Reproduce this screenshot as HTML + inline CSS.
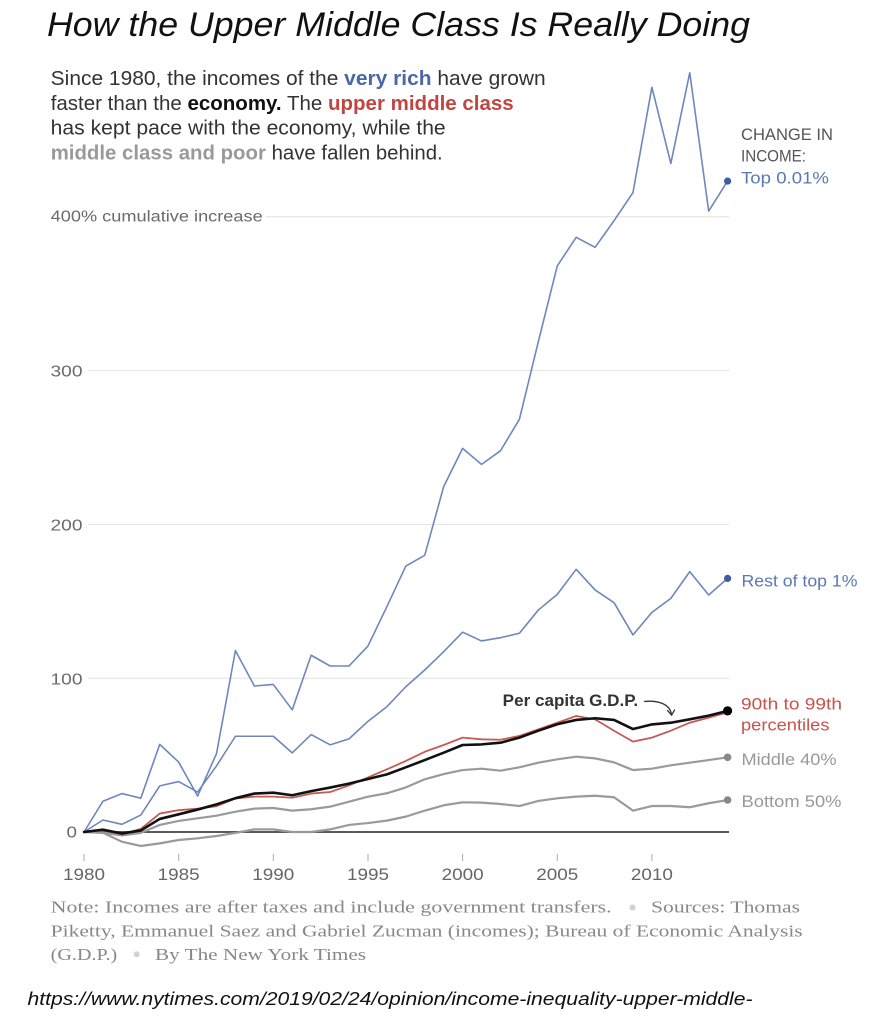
<!DOCTYPE html>
<html>
<head>
<meta charset="utf-8">
<style>
html,body{margin:0;padding:0;background:#fff;}
svg{display:block;}
</style>
</head>
<body>
<svg width="877" height="1024" viewBox="0 0 877 1024" xmlns="http://www.w3.org/2000/svg">
  <rect x="0" y="0" width="877" height="1024" fill="#fff"/>

  <!-- Title -->
  <text x="47" y="36" font-family="'Liberation Sans', sans-serif" font-style="italic" font-size="34" fill="#111" textLength="703" lengthAdjust="spacingAndGlyphs">How the Upper Middle Class Is Really Doing</text>

  <!-- Intro text -->
  <g font-family="'Liberation Sans', sans-serif" font-size="20.5" fill="#333">
    <text x="50.7" y="85" textLength="495" lengthAdjust="spacingAndGlyphs">Since 1980, the incomes of the <tspan font-weight="bold" fill="#4a68a8">very rich</tspan> have grown</text>
    <text x="50.7" y="110" textLength="463" lengthAdjust="spacingAndGlyphs">faster than the <tspan font-weight="bold" fill="#111">economy.</tspan> The <tspan font-weight="bold" fill="#c2453f">upper middle class</tspan></text>
    <text x="50.7" y="134.5" textLength="395" lengthAdjust="spacingAndGlyphs">has kept pace with the economy, while the</text>
    <text x="50.7" y="159.3" textLength="392" lengthAdjust="spacingAndGlyphs"><tspan font-weight="bold" fill="#999">middle class and poor</tspan> have fallen behind.</text>
  </g>

  <!-- Gridlines -->
  <g stroke="#e2e2e2" stroke-width="1">
    <line x1="266" y1="216.7" x2="729" y2="216.7"/>
    <line x1="88" y1="370.6" x2="729" y2="370.6"/>
    <line x1="88" y1="524.6" x2="729" y2="524.6"/>
    <line x1="88" y1="678.3" x2="729" y2="678.3"/>
  </g>

  <!-- Y labels -->
  <g font-family="'Liberation Sans', sans-serif" font-size="16" fill="#6a6a6a">
    <text x="50.7" y="221.7" font-size="15.5" textLength="212" lengthAdjust="spacingAndGlyphs">400% cumulative increase</text>
    <text x="82.5" y="376.6" text-anchor="end" textLength="32" lengthAdjust="spacingAndGlyphs">300</text>
    <text x="82.5" y="530.6" text-anchor="end" textLength="32" lengthAdjust="spacingAndGlyphs">200</text>
    <text x="82.5" y="684.3" text-anchor="end" textLength="32" lengthAdjust="spacingAndGlyphs">100</text>
    <text x="77" y="837.5" text-anchor="end" textLength="10.5" lengthAdjust="spacingAndGlyphs">0</text>
  </g>

  <!-- Zero line -->
  <line x1="84" y1="832" x2="729" y2="832" stroke="#5a5a5a" stroke-width="2"/>

  <!-- X ticks -->
  <g stroke="#aaa" stroke-width="1">
    <line x1="84" y1="854" x2="84" y2="861"/>
    <line x1="178.7" y1="854" x2="178.7" y2="861"/>
    <line x1="273.3" y1="854" x2="273.3" y2="861"/>
    <line x1="368" y1="854" x2="368" y2="861"/>
    <line x1="462.6" y1="854" x2="462.6" y2="861"/>
    <line x1="557.3" y1="854" x2="557.3" y2="861"/>
    <line x1="651.9" y1="854" x2="651.9" y2="861"/>
  </g>
  <g font-family="'Liberation Sans', sans-serif" font-size="16.5" fill="#666" text-anchor="middle">
    <text x="84" y="880" textLength="42" lengthAdjust="spacingAndGlyphs">1980</text>
    <text x="178.7" y="880" textLength="42" lengthAdjust="spacingAndGlyphs">1985</text>
    <text x="273.3" y="880" textLength="42" lengthAdjust="spacingAndGlyphs">1990</text>
    <text x="368" y="880" textLength="42" lengthAdjust="spacingAndGlyphs">1995</text>
    <text x="462.6" y="880" textLength="42" lengthAdjust="spacingAndGlyphs">2000</text>
    <text x="557.3" y="880" textLength="42" lengthAdjust="spacingAndGlyphs">2005</text>
    <text x="651.9" y="880" textLength="42" lengthAdjust="spacingAndGlyphs">2010</text>
  </g>

  <!-- Series -->
  <g transform="translate(84 832) scale(18.93 -1.537)" fill="none" stroke-linejoin="round" stroke-linecap="round">
    <polyline vector-effect="non-scaling-stroke" stroke="#9a9a9a" stroke-width="2.2"
      points="0,0 1,-0.5 2,-6.3 3,-9.1 4,-7.4 5,-5.2 6,-4.1 7,-2.6 8,-0.6 9,1.7 10,1.7 11,0 12,0 13,1.7 14,4.6 15,5.8 16,7.4 17,10 18,13.9 19,17.4 20,19.3 21,19.1 22,18.2 23,16.9 24,20.2 25,21.9 26,23 27,23.6 28,22.6 29,13.9 30,16.9 31,16.9 32,16.1 33,18.7 34,20.8"/>
    <polyline vector-effect="non-scaling-stroke" stroke="#9a9a9a" stroke-width="2.2"
      points="0,0 1,-0.5 2,-2.2 3,-0.6 4,4.6 5,7.2 6,8.9 7,10.6 8,13.2 9,15.2 10,15.6 11,13.9 12,14.8 13,16.5 14,19.7 15,23 16,25.2 17,29 18,34.3 19,37.7 20,40.3 21,41.2 22,39.9 23,42.1 24,45.1 25,47.3 26,49 27,47.9 28,45.3 29,40.3 30,41.2 31,43.4 32,45.1 33,46.8 34,48.6"/>
    <polyline vector-effect="non-scaling-stroke" stroke="#6f87bd" stroke-width="1.6"
      points="0,0 1,7.8 2,5 3,11 4,30 5,32.8 6,26 7,43 8,62.3 9,62.3 10,62.3 11,51.5 12,63.4 13,56.7 14,60.6 15,72 16,81.5 17,94.5 18,105.4 19,117.3 20,130 21,124.3 22,126.4 23,129.3 24,144.4 25,154.6 26,170.9 27,157.5 28,149.2 29,128.2 30,142.9 31,152 32,169.4 33,154.2 34,165"/>
    <polyline vector-effect="non-scaling-stroke" stroke="#6f87bd" stroke-width="1.6"
      points="0,0 1,20 2,25 3,22 4,57 5,45.5 6,23.4 7,51 8,118 9,95 10,96 11,79.5 12,115 13,108 14,108 15,121 16,146.6 17,173 18,180 19,224.7 20,249.6 21,239.2 22,248 23,268.5 24,319 25,368.3 26,386.9 27,380.4 28,397.7 29,416 30,484.5 31,435 32,494 33,404 34,423.5"/>
    <polyline vector-effect="non-scaling-stroke" stroke="#c65a55" stroke-width="1.8"
      points="0,0 1,1.4 2,-1.5 3,2 4,12 5,14.2 6,15.2 7,16.8 8,21.8 9,23 10,23 11,22.3 12,25 13,26 14,30.3 15,35.5 16,40.8 17,46.2 18,52.2 19,56.6 20,61.4 21,60.3 22,60 23,62.5 24,66.8 25,71.1 26,75.5 27,73.3 28,65.9 29,58.8 30,61.4 31,65.9 32,71.1 33,74.4 34,77.8"/>
    <polyline vector-effect="non-scaling-stroke" stroke="#111" stroke-width="2.6"
      points="0,0 1,1.5 2,-1 3,1 4,8.5 5,11.5 6,14.6 7,18 8,22 9,25 10,25.6 11,23.9 12,26.6 13,28.9 14,31.5 15,34.5 16,37.5 17,42.1 18,46.8 19,51.6 20,56.6 21,57 22,58.1 23,61.4 24,65.9 25,70.1 26,72.9 27,74 28,72.9 29,67 30,70 31,71.1 32,73.3 33,75.7 34,78.8"/>
  </g>

  <!-- End dots -->
  <circle cx="727.6" cy="181.1" r="3.6" fill="#3f5c9c"/>
  <circle cx="727.6" cy="578.4" r="3.6" fill="#3f5c9c"/>
  <circle cx="727.6" cy="710.9" r="4.6" fill="#000"/>
  <circle cx="727.6" cy="757.3" r="3.8" fill="#888"/>
  <circle cx="727.6" cy="800" r="3.8" fill="#888"/>

  <!-- Right labels -->
  <g font-family="'Liberation Sans', sans-serif" font-size="16.5">
    <text x="741" y="140" fill="#555" textLength="92" lengthAdjust="spacingAndGlyphs">CHANGE IN</text>
    <text x="741" y="161.7" fill="#555" textLength="65" lengthAdjust="spacingAndGlyphs">INCOME:</text>
    <text x="741" y="183.5" fill="#5b78b3" textLength="88" lengthAdjust="spacingAndGlyphs">Top 0.01%</text>
    <text x="741.5" y="586.5" fill="#5b78b3" textLength="116" lengthAdjust="spacingAndGlyphs">Rest of top 1%</text>
    <text x="741" y="709.5" fill="#c9524c" textLength="101" lengthAdjust="spacingAndGlyphs">90th to 99th</text>
    <text x="741" y="730.5" fill="#c9524c" textLength="88.5" lengthAdjust="spacingAndGlyphs">percentiles</text>
    <text x="741.5" y="765" fill="#999" textLength="95" lengthAdjust="spacingAndGlyphs">Middle 40%</text>
    <text x="741.5" y="807" fill="#999" textLength="100" lengthAdjust="spacingAndGlyphs">Bottom 50%</text>
  </g>

  <!-- Per capita GDP annotation -->
  <text x="502.7" y="706" font-family="'Liberation Sans', sans-serif" font-weight="bold" font-size="16.5" fill="#333" textLength="135.5" lengthAdjust="spacingAndGlyphs">Per capita G.D.P.</text>
  <path d="M644,701.5 C658,700 670,704 671.5,714.5" fill="none" stroke="#333" stroke-width="1.3"/>
  <path d="M667.3,710.2 L671.6,715.2 L674.8,709.6" fill="none" stroke="#333" stroke-width="1.3" stroke-linejoin="round"/>

  <!-- Footnote -->
  <g font-family="'Liberation Serif', serif" font-size="17" fill="#888">
    <text x="50.7" y="912.7" textLength="561" lengthAdjust="spacingAndGlyphs">Note: Incomes are after taxes and include government transfers.</text>
    <text x="651" y="912.7" textLength="149" lengthAdjust="spacingAndGlyphs">Sources: Thomas</text>
    <text x="50.7" y="936.7" textLength="752" lengthAdjust="spacingAndGlyphs">Piketty, Emmanuel Saez and Gabriel Zucman (incomes); Bureau of Economic Analysis</text>
    <text x="50.7" y="960" textLength="66.5" lengthAdjust="spacingAndGlyphs">(G.D.P.)</text>
    <text x="155" y="960" textLength="211" lengthAdjust="spacingAndGlyphs">By The New York Times</text>
  </g>
  <circle cx="632.5" cy="907.5" r="3" fill="#d2d2d2"/>
  <circle cx="136.7" cy="954.3" r="3" fill="#d2d2d2"/>

  <!-- URL -->
  <text x="27.5" y="1005" font-family="'Liberation Sans', sans-serif" font-style="italic" font-size="18.5" fill="#111" textLength="725" lengthAdjust="spacingAndGlyphs">https://www.nytimes.com/2019/02/24/opinion/income-inequality-upper-middle-</text>
</svg>
</body>
</html>
